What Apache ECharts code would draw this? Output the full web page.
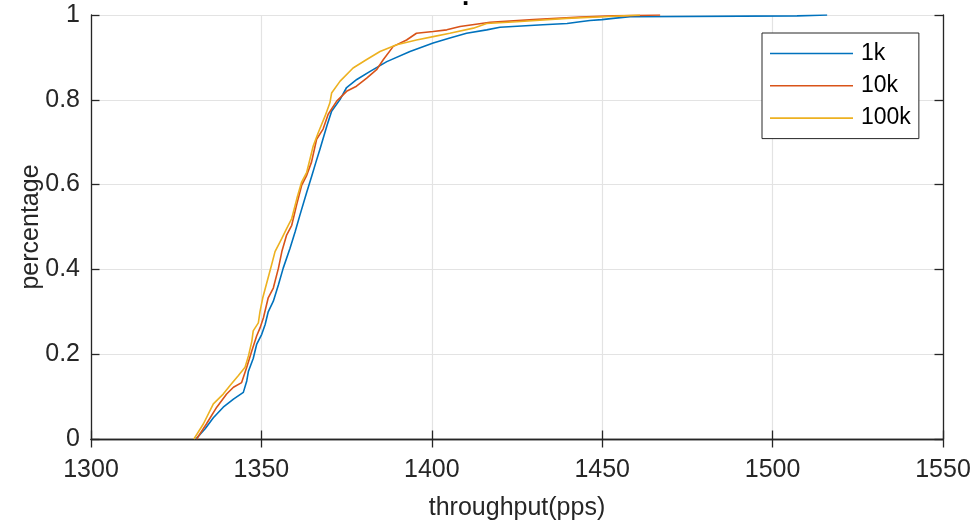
<!DOCTYPE html>
<html>
<head>
<meta charset="utf-8">
<script src="https://cdn.jsdelivr.net/npm/echarts@6/dist/echarts.min.js"></script>
<style>
  html, body { margin: 0; padding: 0; background: #fff; }
  #chart { width: 976px; height: 526px; }
</style>
</head>
<body>
<div id="chart"></div>
<script>
// Empirical CDF of throughput for three table sizes
const seriesNames = ['1k', '10k', '100k'];

const throughput1k = [1330.8, 1333.5, 1335.9, 1338.8, 1341.8, 1344.7, 1345.7, 1346.2, 1347.6, 1348.6,
  1350.1, 1351.1, 1352.0, 1353.5, 1355.0, 1356.4, 1358.4, 1359.9, 1361.3, 1363.3,
  1364.8, 1366.0, 1367.2, 1369.2, 1370.6, 1373.1, 1375.0, 1378.0, 1381.9, 1386.8,
  1393.6, 1400.4, 1405.3, 1410.2, 1416.1, 1420.0, 1432.6, 1439.7, 1443.5, 1446.4,
  1449.9, 1453.2, 1458.2, 1507.2, 1516.0];
const percent1k = [0, 0.024, 0.05, 0.075, 0.094, 0.11, 0.137, 0.16, 0.19, 0.223,
  0.247, 0.27, 0.30, 0.325, 0.364, 0.403, 0.45, 0.489, 0.528, 0.582,
  0.621, 0.653, 0.684, 0.738, 0.773, 0.801, 0.829, 0.848, 0.867, 0.89,
  0.914, 0.934, 0.946, 0.957, 0.965, 0.971, 0.977, 0.98, 0.984, 0.987,
  0.989, 0.992, 0.996, 0.998, 1.0];

const throughput10k = [1331.0, 1333.9, 1336.9, 1339.8, 1341.8, 1344.2, 1345.7, 1347.2, 1348.6, 1349.6,
  1350.6, 1352.0, 1353.5, 1355.0, 1356.0, 1357.4, 1358.9, 1360.3, 1361.8, 1363.3,
  1364.7, 1366.2, 1368.1, 1369.6, 1372.1, 1375.0, 1377.9, 1380.9, 1383.8, 1385.8,
  1388.7, 1392.6, 1395.5, 1400.4, 1404.4, 1408.3, 1417.1, 1429.8, 1443.5, 1453.3,
  1467.0];
const percent10k = [0, 0.036, 0.075, 0.106, 0.122, 0.133, 0.169, 0.208, 0.243, 0.262,
  0.286, 0.333, 0.356, 0.403, 0.442, 0.481, 0.504, 0.551, 0.598, 0.622,
  0.653, 0.707, 0.731, 0.766, 0.797, 0.82, 0.832, 0.851, 0.871, 0.895,
  0.926, 0.941, 0.957, 0.961, 0.965, 0.973, 0.983, 0.989, 0.995, 0.998,
  1.0];

const throughput100k = [1330.2, 1333.0, 1335.9, 1338.8, 1340.8, 1343.2, 1345.2, 1346.2, 1347.2, 1347.6,
  1349.1, 1349.6, 1350.4, 1353.0, 1354.0, 1356.0, 1357.4, 1358.9, 1360.4, 1361.8,
  1363.3, 1365.2, 1366.7, 1368.7, 1370.1, 1370.6, 1373.1, 1376.9, 1380.9, 1384.8,
  1389.7, 1395.5, 1400.4, 1405.3, 1412.2, 1416.1, 1424.9, 1439.6, 1450.3, 1461.1];
const percent100k = [0, 0.036, 0.083, 0.106, 0.126, 0.149, 0.169, 0.196, 0.231, 0.255,
  0.274, 0.301, 0.333, 0.411, 0.442, 0.473, 0.496, 0.52, 0.567, 0.606,
  0.629, 0.691, 0.723, 0.762, 0.793, 0.816, 0.844, 0.875, 0.895, 0.914,
  0.93, 0.941, 0.949, 0.957, 0.969, 0.98, 0.984, 0.992, 0.996, 1.0];

const xMin = 1300, xMax = 1550, xStep = 50;
const yMin = 0, yMax = 1, yStep = 0.2;

const colors = ['#0072BD', '#D95319', '#EDB120'];
const axisColor = '#262626';
const gridColor = '#e3e3e3';
const font = '"Liberation Sans", Arial, Helvetica, sans-serif';

function pairs(xs, ys) {
  return xs.map((x, i) => [x, ys[i]]);
}
const allData = [
  pairs(throughput1k, percent1k),
  pairs(throughput10k, percent10k),
  pairs(throughput100k, percent100k)
];

const tickLen = 8.5;
const chart = echarts.init(document.getElementById('chart'), null, { renderer: 'canvas' });

chart.setOption({
  backgroundColor: '#ffffff',
  animation: false,
  title: {
    text: '.',
    left: 457,
    top: -20,
    textStyle: { fontFamily: font, fontSize: 26, fontWeight: 'bold', color: '#000' }
  },
  grid: { left: 91, right: 33, top: 15, bottom: 84, containLabel: false },
  legend: {
    orient: 'vertical',
    left: 762,
    top: 33,
    data: seriesNames,
    icon: 'rect',
    itemWidth: 83,
    itemHeight: 1.6,
    itemGap: 9.3,
    padding: [9, 8, 9, 8],
    borderColor: axisColor,
    borderWidth: 1,
    backgroundColor: '#fff',
    textStyle: { fontFamily: font, fontSize: 23, color: '#000', padding: [0, 0, 0, 3] }
  },
  xAxis: [{
    type: 'value',
    min: xMin, max: xMax, interval: xStep,
    position: 'bottom',
    name: 'throughput(pps)',
    nameLocation: 'middle',
    nameGap: 57,
    nameMoveOverlap: false,
    nameTextStyle: { fontFamily: font, fontSize: 25, color: axisColor },
    axisLine: { show: true, lineStyle: { color: axisColor, width: 1.3 } },
    axisTick: { show: true, inside: true, length: tickLen, lineStyle: { color: axisColor, width: 1.3 } },
    axisLabel: { fontFamily: font, fontSize: 25, color: axisColor, margin: 19, formatter: v => String(v) },
    splitLine: { show: true, lineStyle: { color: gridColor, width: 1.2 } }
  }, {
    type: 'value',
    min: xMin, max: xMax, interval: xStep,
    position: 'top',
    axisLine: { show: true, lineStyle: { color: axisColor, width: 1.3 } },
    axisTick: { show: true, inside: true, length: tickLen, lineStyle: { color: axisColor, width: 1.3 } },
    axisLabel: { show: false },
    splitLine: { show: false }
  }],
  yAxis: [{
    type: 'value',
    min: yMin, max: yMax, interval: yStep,
    position: 'left',
    name: 'percentage',
    nameLocation: 'middle',
    nameGap: 47,
    nameMoveOverlap: false,
    nameTextStyle: { fontFamily: font, fontSize: 25, color: axisColor },
    axisLine: { show: true, lineStyle: { color: axisColor, width: 1.3 } },
    axisTick: { show: true, inside: true, length: tickLen, lineStyle: { color: axisColor, width: 1.3 } },
    axisLabel: { fontFamily: font, fontSize: 25, color: axisColor, margin: 11 },
    splitLine: { show: true, lineStyle: { color: gridColor, width: 1.2 } }
  }, {
    type: 'value',
    min: yMin, max: yMax, interval: yStep,
    position: 'right',
    axisLine: { show: true, lineStyle: { color: axisColor, width: 1.3 } },
    axisTick: { show: true, inside: true, length: tickLen, lineStyle: { color: axisColor, width: 1.3 } },
    axisLabel: { show: false },
    splitLine: { show: false }
  }],
  series: seriesNames.map((name, i) => ({
    name: name,
    type: 'line',
    xAxisIndex: 0,
    yAxisIndex: 0,
    data: allData[i],
    symbol: 'none',
    showSymbol: false,
    clip: true,
    color: colors[i],
    lineStyle: { color: colors[i], width: 1.6 },
    z: 2 + i
  }))
});
</script>
</body>
</html>
